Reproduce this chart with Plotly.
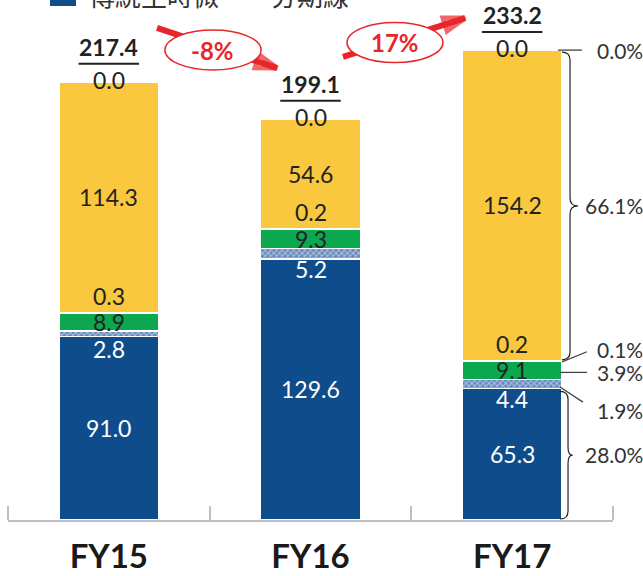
import plotly.graph_objects as go

categories = ["FY15", "FY16", "FY17"]
blue = [91.0, 129.6, 65.3]
hatch = [2.8, 5.2, 4.4]
green = [8.9, 9.3, 9.1]
thin = [0.3, 0.2, 0.2]
yellow = [114.3, 54.6, 154.2]
top = [0.0, 0.0, 0.0]
totals = [217.4, 199.1, 233.2]
growth = ["-8%", "17%"]
fy17_share = ["0.0%", "66.1%", "0.1%", "3.9%", "1.9%", "28.0%"]
legend_text = "傳統主時微　　分期線"

BLUE = "#0F4C8B"
YELLOW = "#F9C83E"
GREEN = "#0BA84F"
RED = "#E8262A"
DARK = "#222222"
FONT = "Lato"

x = [0, 1, 2]
W = 0.495
fig = go.Figure()

def add_bar(vals, color, pattern=None):
    m = dict(color=color, line=dict(color="white", width=1.5))
    if pattern:
        m["pattern"] = pattern
    fig.add_trace(go.Bar(x=x, y=vals, width=W, marker=m, showlegend=False, hoverinfo="skip"))

add_bar(blue, BLUE)
add_bar(hatch, "#6489BD", dict(shape="x", fgcolor="white", bgcolor="#6489BD", size=4, solidity=0.45))
add_bar(green, GREEN)
add_bar(thin, YELLOW)
add_bar(yellow, YELLOW)
add_bar(top, YELLOW)

ann = []
shapes = []

def lab(xv, yv, text, color=DARK, yshift=0, size=23):
    ann.append(dict(x=xv, y=yv, xref="x", yref="y", text=text, showarrow=False,
                    yshift=yshift, font=dict(family=FONT, size=size, color=color)))

for i in range(3):
    b = 0
    lab(i, b + blue[i] / 2, f"{blue[i]:.1f}", "white")
    b += blue[i]
    lab(i, b + hatch[i] / 2, f"{hatch[i]:.1f}", "white", yshift=-15)
    b += hatch[i]
    lab(i, b + green[i] / 2, f"{green[i]:.1f}")
    b += green[i]
    lab(i, b + thin[i] / 2, f"{thin[i]:.1f}", yshift=17)
    b += thin[i]
    lab(i, b + yellow[i] / 2, f"{yellow[i]:.1f}")
    b += yellow[i]
    lab(i, b, f"{top[i]:.1f}", yshift=2)
    ann.append(dict(x=i, y=totals[i], xref="x", yref="y", text=f"<b>{totals[i]:.1f}</b>",
                    showarrow=False, yshift=35, font=dict(family=FONT, size=23, color=DARK)))
    shapes.append(dict(type="line", xref="x", yref="y", x0=i - 0.15, x1=i + 0.15,
                       y0=totals[i] + 9.0, y1=totals[i] + 9.0, line=dict(color=DARK, width=2)))

arrows = [((0.239, 244.2), (0.834, 224.3), (0.278, 0.755, 223.3, 243.2)),
          ((1.161, 229.8), (1.766, 249.1), (1.181, 1.657, 227.0, 246.9))]
for k, (s, e, el) in enumerate(arrows):
    fig.add_trace(go.Scatter(x=[s[0], e[0]], y=[s[1], e[1]], mode="lines+markers",
                             line=dict(color=RED, width=6),
                             marker=dict(symbol="arrow-open", size=[0, 22], color=RED,
                                         angleref="previous", line=dict(color=RED, width=5)),
                             showlegend=False, hoverinfo="skip", cliponaxis=False))
    shapes.append(dict(type="circle", xref="x", yref="y", x0=el[0], x1=el[1], y0=el[2], y1=el[3],
                       fillcolor="white", line=dict(color=RED, width=1.5), layer="above"))
    ann.append(dict(x=(el[0] + el[1]) / 2, y=(el[2] + el[3]) / 2, xref="x", yref="y",
                    text=f"<b>{growth[k]}</b>", showarrow=False,
                    font=dict(family=FONT, size=24, color=RED)))

def brace(x0, x1, x2, ybot, ytop, r=4.0):
    ym = (ybot + ytop) / 2
    return (f"M {x0},{ytop} Q {x1},{ytop} {x1},{ytop - r} L {x1},{ym + r} "
            f"Q {x1},{ym} {x2},{ym} Q {x1},{ym} {x1},{ym - r} L {x1},{ybot + r} "
            f"Q {x1},{ybot} {x0},{ybot}")

ylow = blue[2] + hatch[2] + green[2] + thin[2]
shapes.append(dict(type="path", xref="x", yref="y", path=brace(2.247, 2.287, 2.326, ylow + 0.5, totals[2] - 1.0),
                   line=dict(color=DARK, width=1.2)))
shapes.append(dict(type="path", xref="x", yref="y", path=brace(2.237, 2.277, 2.30, 0.5, blue[2] - 1.5),
                   line=dict(color=DARK, width=1.2)))
pc_line = dict(color="#444444", width=1.3)
shapes.append(dict(type="line", xref="x", yref="y", x0=2.227, x1=2.346, y0=totals[2], y1=totals[2], line=pc_line))
shapes.append(dict(type="line", xref="x", yref="y", x0=2.247, x1=2.371, y0=ylow - 0.5, y1=ylow + 4.5, line=pc_line))
ygreen = blue[2] + hatch[2] + green[2] / 2
shapes.append(dict(type="line", xref="x", yref="y", x0=2.237, x1=2.371, y0=ygreen - 1, y1=ygreen - 1, line=pc_line))
yh = blue[2] + hatch[2] / 2
shapes.append(dict(type="line", xref="x", yref="y", x0=2.237, x1=2.351, y0=yh - 1.5, y1=yh - 9, line=pc_line))

pc_pos = [(2.411, totals[2]), (2.35, (ylow + totals[2]) / 2), (2.411, ylow + 5.5),
          (2.411, ygreen - 1), (2.411, yh - 13), (2.35, blue[2] / 2)]
for t, (xv, yv) in zip(fy17_share, pc_pos):
    ann.append(dict(x=xv, y=yv, xref="x", yref="y", text=t, showarrow=False, xanchor="left",
                    font=dict(family=FONT, size=21, color="#333333")))

shapes.append(dict(type="rect", xref="paper", yref="paper", x0=0.0694, x1=0.1124, y0=1.0078, y1=1.06,
                   fillcolor=BLUE, line=dict(width=0)))
ann.append(dict(x=0.1306, y=1.03, xref="paper", yref="paper", xanchor="left", yanchor="middle",
                text=legend_text, showarrow=False,
                font=dict(family="Noto Sans CJK TC", size=26, color="#333333")))

fig.update_layout(
    width=643, height=576, barmode="stack",
    margin=dict(l=8, r=30, t=10, b=56, autoexpand=False),
    plot_bgcolor="white", paper_bgcolor="white",
    annotations=ann, shapes=shapes,
    xaxis=dict(range=[-0.5, 2.5], tickvals=x, ticktext=[f"<b>{c}</b>" for c in categories],
               ticks="", showline=True, linecolor="#BFBFBF", linewidth=2, showgrid=False,
               zeroline=False, ticklabelstandoff=6,
               tickfont=dict(family=FONT, size=33, color="#1a1a1a"),
               minor=dict(tickvals=[-0.5, 0.5, 1.5, 2.5], ticks="inside", ticklen=14,
                          tickcolor="#BFBFBF", tickwidth=1.5, showgrid=False)),
    yaxis=dict(range=[0, 253.1], visible=False),
)

fig.write_html("out.html", config={"displayModeBar": False},
               post_script="document.body.style.margin='0';document.body.style.overflow='hidden';")
